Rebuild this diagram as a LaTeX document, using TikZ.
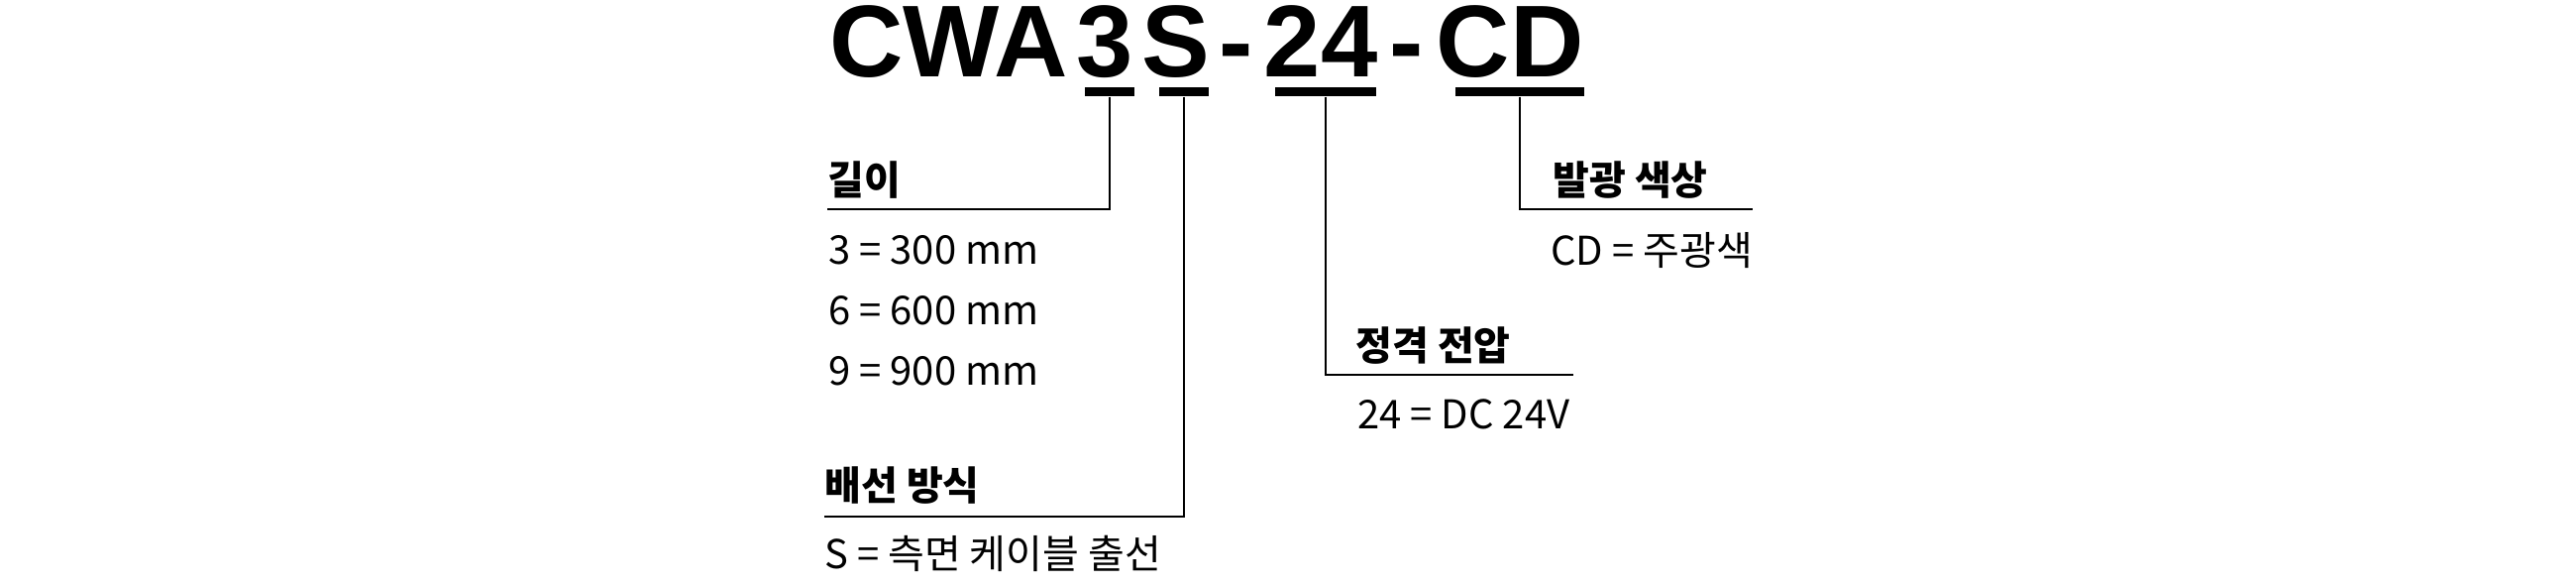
\documentclass[tikz,border=0pt]{standalone}
\usepackage{fontspec}
\newfontfamily\titlefont{Liberation Sans}
\newfontfamily\kr{Noto Sans CJK KR}
\begin{document}
\begin{tikzpicture}[x=0.5pt,y=-0.5pt,
  titletext/.style={anchor=base west,inner sep=0pt,font=\titlefont\bfseries\fontsize{51.5pt}{60pt}\selectfont},
  bar/.style={fill=black,inner sep=0pt,minimum height=4.5pt},
  heading/.style={anchor=base west,inner sep=0pt,font=\kr\bfseries\fontsize{20pt}{24pt}\selectfont},
  value/.style={anchor=base west,inner sep=0pt,font=\kr\fontsize{20pt}{24pt}\selectfont},
  leader/.style={draw=black,line width=0.7pt}]
\useasboundingbox[fill=white] (0,0) rectangle (2600,590);
\node[titletext] (title) at (837,77) {CWA\kern4.5pt 3\kern4.5pt S\kern4.5pt -\kern5.5pt 24\kern6pt -\kern6.5pt CD};
\node[bar,minimum width=25pt] (bar3) at (1120,92.75) {};
\node[bar,minimum width=25pt] (barS) at (1195,92.75) {};
\node[bar,minimum width=51pt] (bar24) at (1338,92.75) {};
\node[bar,minimum width=65pt] (barCD) at (1534,92.75) {};
% labels
\node[heading] (hlen) at (835,196) {길이};
\node[value] (v3) at (836,266) {3 = 300 mm};
\node[value] (v6) at (836,327) {6 = 600 mm};
\node[value] (v9) at (836,388) {9 = 900 mm};
\node[heading] (hwire) at (832,504) {배선 방식};
\node[value] (vS) at (832,573) {S = 측면 케이블 출선};
\node[heading] (hvolt) at (1368,363) {정격 전압};
\node[value] (v24) at (1370,432) {24 = DC 24V};
\node[heading] (hcol) at (1567,196) {발광 색상};
\node[value] (vCD) at (1565,267) {CD = 주광색};
% leader ends
\coordinate (e3) at (835,211);
\coordinate (eS) at (832,521);
\coordinate (e24) at (1588,378);
\coordinate (eCD) at (1769,211);
\draw[leader] (bar3.south) |- (e3);
\draw[leader] (barS.south) |- (eS);
\draw[leader] (bar24.south) |- (e24);
\draw[leader] (barCD.south) |- (eCD);
\end{tikzpicture}
\end{document}
